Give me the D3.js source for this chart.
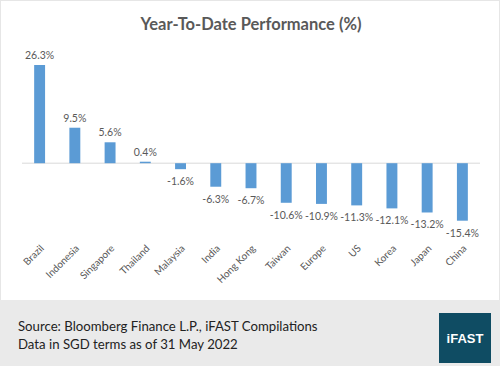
<!DOCTYPE html>
<html><head><meta charset="utf-8">
<script src="https://cdn.jsdelivr.net/npm/d3@7"></script>
<style>body{margin:0;background:#fff}svg{display:block}</style>
</head><body>
<script>
const categories = ["Brazil","Indonesia","Singapore","Thailand","Malaysia","India","Hong Kong","Taiwan","Europe","US","Korea","Japan","China"];
const values = [26.3, 9.5, 5.6, 0.4, -1.6, -6.3, -6.7, -10.6, -10.9, -11.3, -12.1, -13.2, -15.4];
const title = "Year-To-Date Performance (%)";
const sourceLines = ["Source: Bloomberg Finance L.P., iFAST Compilations", "Data in SGD terms as of 31 May 2022"];
const logoText = "iFAST";

const W = 500, H = 366;
const font = "Lato, 'Open Sans', sans-serif";
const svg = d3.select("body").append("svg").attr("width", W).attr("height", H);

svg.append("rect").attr("x",0.5).attr("y",0.5).attr("width",W-1).attr("height",H-1).attr("fill","#fff").attr("stroke","#e6e6e6");

svg.append("text").attr("x",251).attr("y",30).attr("text-anchor","middle")
  .attr("font-family",font).attr("font-weight","bold").attr("font-size",16.5).attr("fill","#595959").text(title);

const x = d3.scaleBand().domain(categories).range([22,480]).paddingInner(0.69).paddingOuter(0.345);
const y = d3.scaleLinear().domain([-15.4, 26.3]).range([220.7, 65]);

svg.append("line").attr("x1",22).attr("x2",480).attr("y1",y(0)).attr("y2",y(0)).attr("stroke","#d9d9d9").attr("stroke-width",1);

const data = categories.map((c,i)=>({c, v: values[i]}));
svg.selectAll("rect.bar").data(data).join("rect").attr("class","bar")
  .attr("x", d=>x(d.c)).attr("width", x.bandwidth())
  .attr("y", d=>y(Math.max(0,d.v))).attr("height", d=>Math.abs(y(d.v)-y(0)))
  .attr("fill","#5b9bd5");

svg.selectAll("text.val").data(data).join("text").attr("class","val")
  .attr("x", d=>x(d.c)+x.bandwidth()/2)
  .attr("y", d=> d.v>=0 ? y(d.v)-6 : y(d.v)+16)
  .attr("text-anchor","middle").attr("font-family",font).attr("font-size",10.5).attr("fill","#595959")
  .text(d=>d.v.toFixed(1)+"%");

svg.selectAll("text.cat").data(categories).join("text").attr("class","cat")
  .attr("transform", d=>`translate(${x(d)+x.bandwidth()/2+5},249) rotate(-45)`)
  .attr("text-anchor","end").attr("font-family",font).attr("font-size",10).attr("fill","#595959")
  .text(d=>d);

// footer
svg.append("rect").attr("x",0).attr("y",300).attr("width",W).attr("height",H-300).attr("fill","#eaeaea");
svg.selectAll("text.src").data(sourceLines).join("text").attr("class","src")
  .attr("x",18).attr("y",(d,i)=>331+i*18).attr("font-family",font).attr("font-size",13.2).attr("fill","#222").text(d=>d);
svg.append("rect").attr("x",439).attr("y",313).attr("width",52).attr("height",50).attr("fill","#0f4c63");
svg.append("text").attr("x",465).attr("y",343).attr("text-anchor","middle").attr("font-family","'Liberation Sans', Arial, sans-serif")
  .attr("font-weight","bold").attr("font-size",13).attr("fill","#fff").text(logoText);
</script>
</body></html>
